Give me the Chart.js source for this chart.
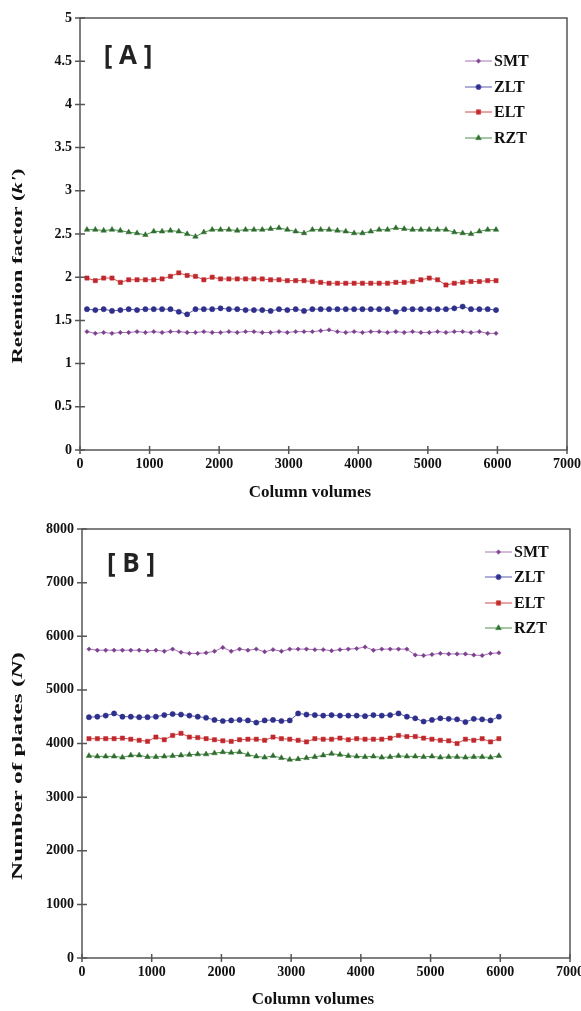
<!DOCTYPE html>
<html>
<head>
<meta charset="utf-8">
<script src="https://cdn.jsdelivr.net/npm/chart.js@4.4.0/dist/chart.umd.min.js"></script>
<style>
  body { margin: 0; background: #fff; }
  canvas { display: block; }
</style>
</head>
<body>
<canvas id="chartA" width="581" height="505"></canvas>
<canvas id="chartB" width="581" height="506"></canvas>
<script>
// Column volumes (x) shared by both panels
const columnVolumes = [100, 220, 340, 460, 580, 700, 820, 940, 1060, 1180,
  1300, 1420, 1540, 1660, 1780, 1900, 2020, 2140, 2260, 2380,
  2500, 2620, 2740, 2860, 2980, 3100, 3220, 3340, 3460, 3580,
  3700, 3820, 3940, 4060, 4180, 4300, 4420, 4540, 4660, 4780,
  4900, 5020, 5140, 5260, 5380, 5500, 5620, 5740, 5860, 5980];

const seriesNames = ['SMT', 'ZLT', 'ELT', 'RZT'];

// [A] retention factor k'
const smtA = [1.37, 1.35, 1.36, 1.35, 1.36, 1.36, 1.37, 1.36, 1.37, 1.36, 1.37, 1.37, 1.36, 1.36, 1.37, 1.36, 1.36, 1.37, 1.36, 1.37,
  1.37, 1.36, 1.36, 1.37, 1.36, 1.37, 1.37, 1.37, 1.38, 1.39, 1.37, 1.36, 1.37, 1.36, 1.37, 1.37, 1.36, 1.37, 1.36, 1.37,
  1.36, 1.36, 1.37, 1.36, 1.37, 1.37, 1.36, 1.37, 1.35, 1.35];
const zltA = [1.63, 1.62, 1.63, 1.61, 1.62, 1.63, 1.62, 1.63, 1.63, 1.63, 1.63, 1.60, 1.57, 1.63, 1.63, 1.63, 1.64, 1.63, 1.63, 1.62,
  1.62, 1.62, 1.61, 1.63, 1.62, 1.63, 1.61, 1.63, 1.63, 1.63, 1.63, 1.63, 1.63, 1.63, 1.63, 1.63, 1.63, 1.60, 1.63, 1.63,
  1.63, 1.63, 1.63, 1.63, 1.64, 1.66, 1.63, 1.63, 1.63, 1.62];
const eltA = [1.99, 1.96, 1.99, 1.99, 1.94, 1.97, 1.97, 1.97, 1.97, 1.98, 2.01, 2.05, 2.02, 2.01, 1.97, 2.00, 1.98, 1.98, 1.98, 1.98,
  1.98, 1.98, 1.97, 1.97, 1.96, 1.96, 1.96, 1.95, 1.94, 1.93, 1.93, 1.93, 1.93, 1.93, 1.93, 1.93, 1.93, 1.94, 1.94, 1.95,
  1.97, 1.99, 1.97, 1.91, 1.93, 1.94, 1.95, 1.95, 1.96, 1.96];
const rztA = [2.55, 2.55, 2.54, 2.55, 2.54, 2.52, 2.51, 2.49, 2.53, 2.53, 2.54, 2.53, 2.50, 2.47, 2.52, 2.55, 2.55, 2.55, 2.54, 2.55,
  2.55, 2.55, 2.56, 2.57, 2.55, 2.53, 2.51, 2.55, 2.55, 2.55, 2.54, 2.53, 2.51, 2.51, 2.53, 2.55, 2.55, 2.57, 2.56, 2.55,
  2.55, 2.55, 2.55, 2.55, 2.52, 2.51, 2.50, 2.53, 2.55, 2.55];

// [B] number of plates N
const smtB = [5760, 5740, 5740, 5740, 5740, 5740, 5740, 5730, 5740, 5720, 5760, 5700, 5680, 5680, 5690, 5720, 5790, 5720, 5760, 5740,
  5760, 5710, 5750, 5720, 5760, 5760, 5760, 5750, 5750, 5730, 5750, 5760, 5770, 5800, 5740, 5760, 5760, 5760, 5760, 5650,
  5640, 5660, 5680, 5670, 5670, 5670, 5650, 5640, 5680, 5690];
const zltB = [4490, 4500, 4520, 4560, 4500, 4500, 4490, 4490, 4500, 4530, 4550, 4540, 4520, 4500, 4480, 4440, 4420, 4430, 4440, 4430,
  4390, 4430, 4440, 4420, 4430, 4560, 4540, 4530, 4520, 4530, 4520, 4520, 4520, 4510, 4530, 4520, 4530, 4560, 4500, 4470,
  4410, 4440, 4470, 4460, 4450, 4400, 4460, 4450, 4430, 4500];
const eltB = [4090, 4090, 4090, 4090, 4100, 4080, 4060, 4040, 4120, 4070, 4150, 4190, 4120, 4110, 4090, 4070, 4050, 4040, 4070, 4080,
  4080, 4060, 4120, 4090, 4080, 4060, 4030, 4090, 4080, 4080, 4100, 4070, 4090, 4080, 4080, 4080, 4100, 4150, 4130, 4130,
  4100, 4080, 4060, 4050, 4000, 4080, 4060, 4090, 4030, 4090];
const rztB = [3770, 3760, 3760, 3760, 3740, 3780, 3780, 3750, 3750, 3760, 3770, 3780, 3790, 3800, 3800, 3820, 3840, 3830, 3840, 3790,
  3760, 3740, 3770, 3730, 3700, 3710, 3730, 3750, 3780, 3810, 3790, 3770, 3760, 3750, 3760, 3740, 3750, 3770, 3760, 3760,
  3750, 3760, 3740, 3750, 3750, 3740, 3750, 3750, 3740, 3770];

const serif = '"Liberation Serif", "Times New Roman", serif';
const frameColor = '#555';

// estilo de cada serie
const styles = [
  { line: '#a574b5', point: '#7d3f8e', shape: 'rectRot', r: 2.2 },
  { line: '#5b5bb0', point: '#2f2f8c', shape: 'circle', r: 2.6 },
  { line: '#d04a48', point: '#c0282d', shape: 'rect', r: 3 },
  { line: '#4f8f4f', point: '#2f6d2f', shape: 'triangle', r: 3.2 }
];

function makeChart(canvasId, cfg) {
  const canvas = document.getElementById(canvasId);
  const W = canvas.width, H = canvas.height;

  const datasets = cfg.series.map((vals, i) => ({
    label: seriesNames[i],
    data: columnVolumes.map((x, k) => ({ x: x, y: vals[k] })),
    borderColor: styles[i].line,
    borderWidth: 1,
    pointStyle: styles[i].shape,
    pointRadius: styles[i].r,
    pointBackgroundColor: styles[i].point,
    pointBorderColor: styles[i].point,
    pointBorderWidth: 0.5,
    tension: 0,
    fill: false
  }));

  const decor = {
    id: 'decor_' + canvasId,
    afterDraw(chart) {
      const ctx = chart.ctx;
      const a = chart.chartArea;
      const xs = chart.scales.x, ys = chart.scales.y;
      ctx.save();
      // marco
      ctx.strokeStyle = frameColor;
      ctx.lineWidth = 1.5;
      ctx.strokeRect(a.left, a.top, a.right - a.left, a.bottom - a.top);
      // marcas cruzadas en los ejes
      ctx.beginPath();
      xs.ticks.forEach(t => {
        const px = xs.getPixelForValue(t.value);
        ctx.moveTo(px, a.bottom - 4);
        ctx.lineTo(px, a.bottom + 4);
      });
      ys.ticks.forEach(t => {
        const py = ys.getPixelForValue(t.value);
        ctx.moveTo(a.left - 5, py);
        ctx.lineTo(a.left + 5, py);
      });
      ctx.stroke();

      // etiqueta del panel
      ctx.fillStyle = '#222';
      ctx.font = 'bold 26px "Open Sans", "DejaVu Sans", sans-serif';
      ctx.textAlign = 'center';
      ctx.textBaseline = 'middle';
      ctx.fillText(cfg.panel, cfg.panelPos[0], cfg.panelPos[1]);

      // leyenda
      ctx.font = 'bold 16px ' + serif;
      ctx.textAlign = 'left';
      cfg.legendY.forEach((ly, i) => {
        const st = styles[i];
        ctx.strokeStyle = st.line;
        ctx.lineWidth = 1;
        ctx.beginPath();
        ctx.moveTo(cfg.legendX[0], ly);
        ctx.lineTo(cfg.legendX[1], ly);
        ctx.stroke();
        ctx.fillStyle = st.point;
        Chart.helpers.drawPoint(ctx, { pointStyle: st.shape, radius: st.r, borderWidth: 0.5 },
          (cfg.legendX[0] + cfg.legendX[1]) / 2, ly);
        ctx.fillStyle = '#111';
        ctx.fillText(seriesNames[i], cfg.legendX[1] + 2, ly + 1);
      });

      // título eje x
      ctx.fillStyle = '#111';
      ctx.font = 'bold 17px ' + serif;
      ctx.textAlign = 'center';
      ctx.fillText('Column volumes', cfg.xTitlePos[0], cfg.xTitlePos[1]);

      // título eje y con parte en cursiva, estirado a lo largo
      ctx.translate(cfg.yTitlePos[0], cfg.yTitlePos[1]);
      ctx.rotate(-Math.PI / 2);
      const fonts = cfg.yTitle.map(p => (p[1] ? 'italic bold 15px ' : 'bold 15px ') + serif);
      let total = 0;
      const widths = cfg.yTitle.map((p, i) => { ctx.font = fonts[i]; const w = ctx.measureText(p[0]).width; total += w; return w; });
      ctx.scale(cfg.yTitleLen / total, 1);
      let cx = -total / 2;
      ctx.textAlign = 'left';
      cfg.yTitle.forEach((p, i) => {
        ctx.font = fonts[i];
        ctx.fillText(p[0], cx, 0);
        cx += widths[i];
      });
      ctx.restore();
    }
  };

  return new Chart(canvas, {
    type: 'line',
    data: { datasets: datasets },
    options: {
      responsive: false,
      animation: false,
      devicePixelRatio: 1,
      layout: { padding: { left: 0, top: cfg.area.top, right: W - cfg.area.right, bottom: 0 } },
      plugins: { legend: { display: false }, tooltip: { enabled: false } },
      scales: {
        x: {
          type: 'linear',
          min: 0, max: 7000,
          grid: { display: false, drawTicks: false },
          border: { display: false },
          ticks: {
            stepSize: 1000,
            padding: 6,
            maxRotation: 0,
            color: '#111',
            font: { family: serif, size: 14, weight: 'bold' },
            callback: v => String(v)
          },
          afterFit(scale) {
            scale.height = H - cfg.area.bottom;
            scale.paddingLeft = 0;
            scale.paddingRight = 0;
          }
        },
        y: {
          min: 0, max: cfg.yMax,
          grid: { display: false, drawTicks: false },
          border: { display: false },
          ticks: {
            stepSize: cfg.yStep,
            padding: 8,
            color: '#111',
            font: { family: serif, size: 14, weight: 'bold' },
            callback: v => String(v)
          },
          afterFit(scale) {
            scale.width = cfg.area.left;
          }
        }
      }
    },
    plugins: [decor]
  });
}

makeChart('chartA', {
  series: [smtA, zltA, eltA, rztA],
  yMax: 5, yStep: 0.5,
  area: { left: 80, right: 567, top: 18, bottom: 450 },
  panel: '[ A ]', panelPos: [128, 57],
  legendX: [465, 492], legendY: [61, 87, 112, 138],
  xTitlePos: [310, 493],
  yTitle: [['Retention factor (', false], ["k'", true], [')', false]],
  yTitlePos: [18, 266], yTitleLen: 195
});

makeChart('chartB', {
  series: [smtB, zltB, eltB, rztB],
  yMax: 8000, yStep: 1000,
  area: { left: 82, right: 570, top: 24, bottom: 453 },
  panel: '[ B ]', panelPos: [131, 60],
  legendX: [485, 512], legendY: [47, 72, 98, 123],
  xTitlePos: [313, 495],
  yTitle: [['Number of plates (', false], ['N', true], [')', false]],
  yTitlePos: [18, 261], yTitleLen: 228
});
</script>
</body>
</html>
